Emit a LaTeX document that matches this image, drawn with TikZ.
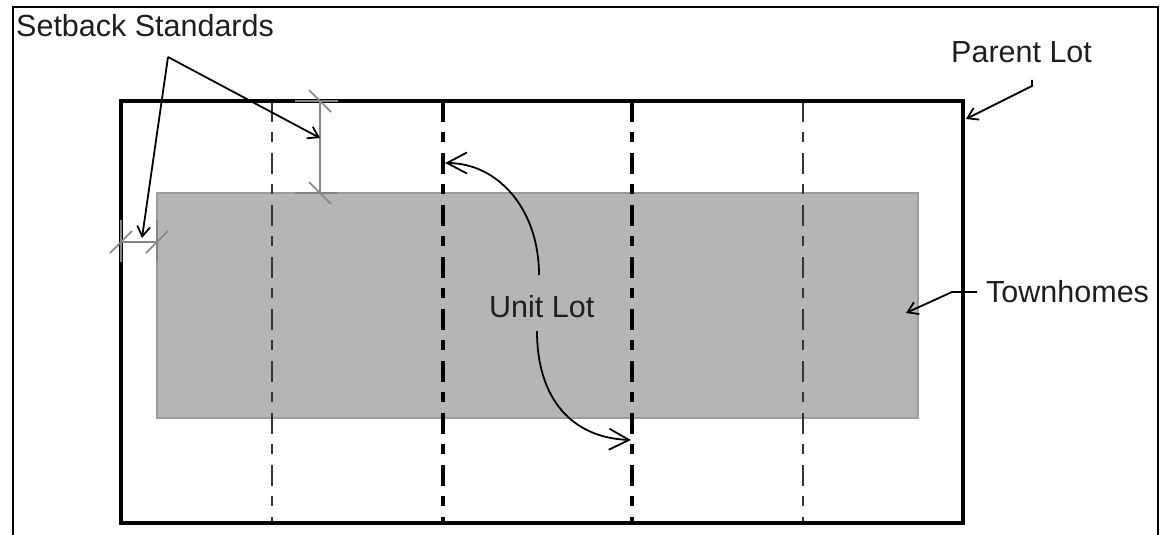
\documentclass[tikz,border=0pt]{standalone}
\usepackage{fontspec}
\setmainfont{Liberation Sans}
\usetikzlibrary{arrows.meta,calc}
\definecolor{townfill}{HTML}{B5B5B5}
\definecolor{townedge}{HTML}{9C9C9C}
\definecolor{dimgray}{HTML}{858585}
\definecolor{thinlot}{HTML}{333333}
\definecolor{txt}{HTML}{1E1E1E}
\begin{document}
\begin{tikzpicture}[x=1pt,y=-1pt,
  label text/.style={inner sep=0pt,anchor=base west,text=txt,font=\fontsize{30.5}{36}\selectfont},
  lotline/.style={line width=3.8pt,black},
  lotdiv thick/.style={line width=3.8pt,black,dash pattern=on 21pt off 10pt on 10pt off 11pt},
  lotdiv thin/.style={line width=2.4pt,thinlot,dash pattern=on 21pt off 10pt on 10pt off 11pt},
  dimline/.style={line width=1.7pt,dimgray},
  smallarrow/.style={line width=1.8pt,black,-{Straight Barb[length=10pt,width=13pt,line width=1.8pt]}},
  bigarrow/.style={line width=1.8pt,black,-{Straight Barb[length=20pt,width=21pt,line width=1.8pt]}}
]
\useasboundingbox (0,0) rectangle (1165,535);
% outer frame
\draw[line width=2.4pt,black] (13,535) -- (13,7) -- (1158,7) -- (1158,535);
% townhomes block
\draw[fill=townfill,draw=townedge,line width=1.2pt] (157,193) rectangle (918,418);
% unit lot dividers
\coordinate (d1t) at (272,101); \coordinate (d1b) at (272,523);
\coordinate (d2t) at (443,101); \coordinate (d2b) at (443,523);
\coordinate (d3t) at (632,101); \coordinate (d3b) at (632,523);
\coordinate (d4t) at (803,101); \coordinate (d4b) at (803,523);
\draw[lotdiv thin] (d1t) -- (d1b);
\draw[lotdiv thick] (d2t) -- (d2b);
\draw[lotdiv thick] (d3t) -- (d3b);
\draw[lotdiv thin] (d4t) -- (d4b);
% parent lot
\draw[lotline] (121,101) rectangle (963,523);
% setback dimensions (front)
\coordinate (vt) at (320,101); \coordinate (vb) at (320,193);
\draw[dimline] (295,101) -- (338,101);
\draw[dimline] (295,193) -- (338,193);
\draw[dimline] (vt) -- (vb);
\draw[dimline] ($(vt)+(-11,-11)$) -- ($(vt)+(11,11)$);
\draw[dimline] ($(vb)+(-11,-11)$) -- ($(vb)+(11,11)$);
% setback dimensions (side)
\coordinate (hl) at (121,242); \coordinate (hr) at (157,242);
\draw[dimline] (121,220) -- (121,262);
\draw[dimline] (157,220) -- (157,262);
\draw[dimline] (hl) -- (hr);
\draw[dimline] ($(hl)+(-11,11)$) -- ($(hl)+(11,-11)$);
\draw[dimline] ($(hr)+(-11,11)$) -- ($(hr)+(11,-11)$);
% labels
\node[label text] (setback) at (16,37) {Setback Standards};
\node[label text] (parent) at (951,63) {Parent Lot};
\node[label text] (town) at (986,302) {Townhomes};
\node[label text] (unit) at (489,317) {Unit Lot};
% setback arrows
\coordinate (sv) at (168,57);
\coordinate (sleft) at (142,238);
\coordinate (sright) at (320,138);
\draw[smallarrow] (sv) -- (sleft);
\draw[smallarrow] (sv) -- (sright);
% parent lot arrow
\coordinate (ps) at (1032,80);
\coordinate (pe) at (966,119);
\draw[smallarrow] (ps) -- ++(0,6) -- (pe);
% townhomes arrow
\coordinate (ts) at (977,292);
\coordinate (te) at (906,313);
\draw[smallarrow] (ts) -- (952,292) -- (te);
% unit lot arrows
\coordinate (ua) at (539,275);
\coordinate (ub) at (537,331);
\coordinate (uat) at (445,163);
\coordinate (ubt) at (631,440);
\draw[bigarrow] (ua) .. controls (539,208) and (497,163) .. (uat);
\draw[bigarrow] (ub) .. controls (537,400) and (573,438) .. (ubt);
\end{tikzpicture}
\end{document}
